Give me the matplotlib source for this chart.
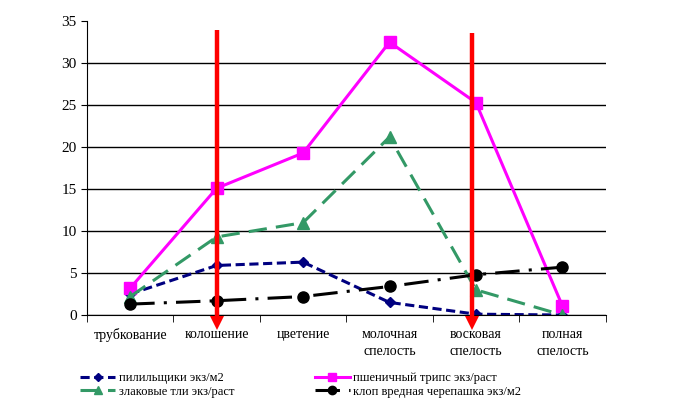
import matplotlib.pyplot as plt
import numpy as np

plt.rcParams['font.family'] = ['Liberation Serif', 'DejaVu Serif']

stages = ["трубкование", "колошение", "цветение", "молочная\nспелость", "восковая\nспелость", "полная\nспелость"]
pililschiki = [2.5, 5.9, 6.3, 1.5, 0.1, 0.0]
trips = [3.2, 15.1, 19.3, 32.5, 25.3, 1.1]
tli = [2.2, 9.3, 11.0, 21.2, 3.0, 0.0]
klop = [1.3, 1.7, 2.2, 3.4, 4.8, 5.7]
arrow_pos = [1.0, 3.96]
arrow_top = [33.9, 33.6]

x = np.arange(len(stages))

fig = plt.figure(figsize=(6.77, 4.07), dpi=100)
ax = fig.add_axes([0.1285, 0.226, 0.766, 0.722])

l1, = ax.plot(x, pililschiki, color='#000080', linestyle=(0, (3, 1.5)), linewidth=2.2,
              marker='D', markersize=5, label='пилильщики экз/м2')
l2, = ax.plot(x, trips, color='#FF00FF', linewidth=2.2, marker='s', markersize=8,
              label='пшеничный трипс экз/раст')
l3, = ax.plot(x, tli, color='#339966', linestyle=(0, (6, 3)), linewidth=2.2,
              marker='^', markersize=8, label='злаковые тли экз/раст')
l4, = ax.plot(x, klop, color='black', linestyle=(0, (8, 3, 1, 3)), linewidth=2.2,
              marker='o', markersize=8, label='клоп вредная черепашка экз/м2')

# red arrows: shaft + triangular head below the axis
for xp, yt in zip(arrow_pos, arrow_top):
    ax.plot([xp, xp], [yt, -0.3], color='#FF0000', linewidth=3.2, clip_on=False,
            zorder=5, solid_capstyle='butt')
    ax.plot([xp], [-0.9], marker='v', markersize=10, color='#FF0000', clip_on=False,
            zorder=5, markeredgewidth=0)

ax.set_xlim(-0.5, len(stages) - 0.5)
ax.set_ylim(0, 35)
ax.set_yticks(np.arange(0, 36, 5))
ax.yaxis.grid(True, color='black', linewidth=1)
ax.get_ygridlines()[-1].set_visible(False)
ax.set_axisbelow(True)

ax.set_xticks(x)
ax.set_xticklabels(stages, fontsize=10, linespacing=1.45)
ax.set_xticks(np.arange(-0.5, len(stages), 1), minor=True)
ax.tick_params(axis='x', which='major', length=0, pad=9)
ax.tick_params(axis='x', which='minor', length=5, color='black')
ax.tick_params(axis='y', labelsize=11, length=4)

for s in ['top', 'right']:
    ax.spines[s].set_visible(False)

fig.legend(handles=[l1, l3, l2, l4], ncol=2, frameon=False, fontsize=9,
           loc='lower left', bbox_to_anchor=(0.102, -0.005), columnspacing=6.4,
           handlelength=2.8, labelspacing=0.12, handletextpad=0.3, markerscale=0.75)

fig.savefig('out.png', dpi=100)
